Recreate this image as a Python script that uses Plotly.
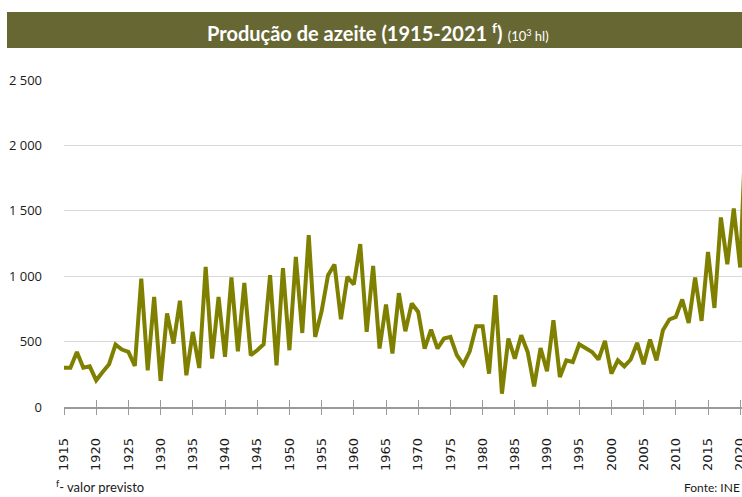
import plotly.graph_objects as go

YEARS = list(range(1915, 2022))
PRODUCTION = [
    300, 300, 421, 300, 311, 204, 268, 327, 477, 439,   # 1915-1924
    421, 314, 982, 281, 842, 199, 715, 485, 812, 243,   # 1925-1934
    574, 298, 1071, 370, 842, 383, 990, 426, 949, 396,  # 1935-1944
    434, 480, 1008, 319, 1062, 434, 1148, 566, 1314, 536,  # 1945-1954
    732, 1008, 1090, 671, 995, 937, 1245, 574, 1079, 447,  # 1955-1964
    783, 409, 870, 579, 791, 727, 447, 592, 447, 523,   # 1965-1974
    536, 396, 324, 426, 617, 617, 255, 855, 102, 523,   # 1975-1984
    370, 549, 421, 158, 451, 273, 663, 230, 357, 344,   # 1985-1994
    480, 447, 421, 363, 505, 255, 357, 311, 363, 490,   # 1995-2004
    327, 516, 357, 587, 669, 689, 822, 643, 990, 658,   # 2005-2014
    1186, 757, 1449, 1092, 1518, 1067, 2300,            # 2015-2021
]
X_TICKS = list(range(1915, 2021, 5))
Y_TICKS = [0, 500, 1000, 1500, 2000, 2500]
Y_LABELS = ["0", "500", "1 000", "1 500", "2 000", "2 500"]

W, H = 742, 497
ML, MT, MB = 64, 80, 90
PW = W - ML
PH = H - MT - MB
PX_PER_YEAR = 6.44
X_END = 1915 + PW / PX_PER_YEAR


def px(x):
    return (x - ML) / PW


def py(y):
    return (H - MB - y) / PH


fig = go.Figure()
fig.add_trace(go.Scatter(
    x=YEARS, y=PRODUCTION, mode="lines",
    line=dict(color="#808000", width=4),
    showlegend=False, hoverinfo="x+y",
))
fig.add_trace(go.Scatter(x=[None], y=[None], xaxis="x2", yaxis="y",
                         showlegend=False, hoverinfo="skip"))

fig.update_layout(
    width=W, height=H,
    margin=dict(l=ML, r=0, t=MT, b=MB, autoexpand=False),
    paper_bgcolor="white", plot_bgcolor="white",
    xaxis=dict(
        range=[1915, X_END], tickmode="array", tickvals=X_TICKS,
        ticks="outside", ticklen=6, tickcolor="#9a9a9a", tickwidth=1,
        showline=True, linecolor="#9a9a9a", linewidth=1.5,
        showgrid=False, zeroline=False, automargin=False,
        tickangle=-90, ticklabelstandoff=18, ticklabeloverflow="allow",
        tickfont=dict(family="DejaVu Sans", size=13, color="#1a1a1a"),
    ),
    xaxis2=dict(
        range=[1915, X_END], overlaying="x", anchor="y", side="bottom",
        tickmode="array", tickvals=X_TICKS, ticks="inside", ticklen=7,
        tickcolor="#9a9a9a", tickwidth=1, showticklabels=False,
        showgrid=False, zeroline=False, showline=False, automargin=False,
    ),
    yaxis=dict(
        range=[0, 2500], tickmode="array", tickvals=Y_TICKS, ticktext=Y_LABELS,
        showgrid=True, gridcolor="#d9d9d9", gridwidth=1,
        zeroline=False, showline=False, ticks="", automargin=False,
        ticklabelstandoff=21,
        tickfont=dict(family="Open Sans", size=13, color="#1a1a1a"),
    ),
    shapes=[dict(
        type="rect", xref="paper", yref="paper",
        x0=px(7), x1=1.0, y0=py(48), y1=py(12),
        fillcolor="#676734", line=dict(width=0), layer="above",
    )],
    annotations=[
        dict(
            xref="paper", yref="paper", x=px(378), y=py(32),
            xanchor="center", yanchor="middle", showarrow=False,
            text="<b>Produção de azeite (1915-2021 <sup>f</sup>)</b>"
                 " <span style='font-size:13px'>(10<sup>3</sup> hl)</span>",
            font=dict(family="Lato", size=20, color="white"),
        ),
        dict(
            xref="paper", yref="paper", x=px(54), y=py(486),
            xanchor="left", yanchor="middle", showarrow=False,
            text="<sup>f</sup>- valor previsto",
            font=dict(family="Lato", size=13, color="#1a1a1a"),
        ),
        dict(
            xref="paper", yref="paper", x=1.0, y=py(487),
            xanchor="right", yanchor="middle", showarrow=False,
            text="Fonte: INE",
            font=dict(family="Lato", size=12, color="#1a1a1a"),
        ),
    ],
)

fig.write_html("out.html", config={"displayModeBar": False},
               post_script="document.body.style.margin='0';")
